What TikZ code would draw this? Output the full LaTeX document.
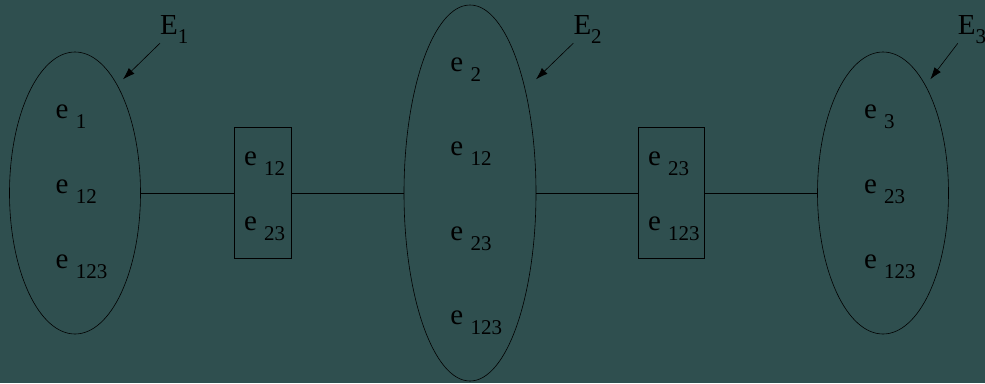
\documentclass[tikz,border=0pt]{standalone}
\usepackage{fontspec}
\setmainfont{Liberation Serif}
\usepackage{tikz}
\usetikzlibrary{arrows.meta,shapes.geometric}
\definecolor{slate}{HTML}{2F4F4F}
\newcommand{\bigsz}{\fontsize{29}{34}\selectfont}
\newcommand{\subsz}{\fontsize{21}{24}\selectfont}
\newcommand{\ename}[1]{e \raisebox{-10pt}{\subsz #1}}
\newcommand{\setname}[1]{E\raisebox{-9pt}{\subsz #1}}
\tikzset{
  >={Latex[length=12pt,width=8pt]},
  blob/.style={draw=black,ellipse,line width=0.6pt,inner sep=0pt},
  sepbox/.style={draw=black,rectangle,line width=0.6pt,inner sep=0pt},
  item/.style={anchor=base west,inner sep=0pt,font=\bigsz,text=black},
  lab/.style={anchor=base west,inner sep=0pt,font=\bigsz,text=black},
  arr/.style={->,draw=black,line width=0.6pt},
  link/.style={draw=black,line width=0.6pt},
}
\begin{document}
\begin{tikzpicture}[x=1pt,y=-1pt]
\fill[slate] (0,0) rectangle (985,383);
\useasboundingbox (0,0) rectangle (985,383);
% sets and separators
\node[blob,minimum width=131pt,minimum height=282pt] (s1) at (75,193) {};
\node[sepbox,minimum width=57pt,minimum height=131pt] (b1) at (263,193) {};
\node[blob,minimum width=132pt,minimum height=376pt] (s2) at (470,193) {};
\node[sepbox,minimum width=66pt,minimum height=131pt] (b2) at (671.5,193) {};
\node[blob,minimum width=131pt,minimum height=282pt] (s3) at (883,193) {};
\draw[link] (s1) -- (b1); \draw[link] (b1) -- (s2);
\draw[link] (s2) -- (b2); \draw[link] (b2) -- (s3);
% contents
\node[item] (s1a) at (55.5,118) {\ename{1}};
\node[item] (s1b) at (55.5,193) {\ename{12}};
\node[item] (s1c) at (55.5,268) {\ename{123}};
\node[item] (b1a) at (243.8,165.7) {\ename{12}};
\node[item] (b1b) at (243.8,230.7) {\ename{23}};
\node[item] (s2a) at (450.2,71) {\ename{2}};
\node[item] (s2b) at (450.2,155.7) {\ename{12}};
\node[item] (s2c) at (450.2,240) {\ename{23}};
\node[item] (s2d) at (450.2,324.3) {\ename{123}};
\node[item] (b2a) at (647.8,165.7) {\ename{23}};
\node[item] (b2b) at (647.8,230.7) {\ename{123}};
\node[item] (s3a) at (863.8,118.3) {\ename{3}};
\node[item] (s3b) at (863.8,193.3) {\ename{23}};
\node[item] (s3c) at (863.8,268.3) {\ename{123}};
% set labels
\node[lab] (l1) at (160,34) {\setname{1}};
\node[lab] (l2) at (573.3,34) {\setname{2}};
\node[lab] (l3) at (957.7,34) {\setname{3}};
\coordinate (t1) at (123,79.3);
\coordinate (t2) at (536,79.3);
\coordinate (t3) at (930.3,79.3);
\draw[arr] (l1.south west) -- (t1);
\draw[arr] (l2.south west) -- (t2);
\draw[arr] (l3.south west) -- (t3);
\end{tikzpicture}
\end{document}
